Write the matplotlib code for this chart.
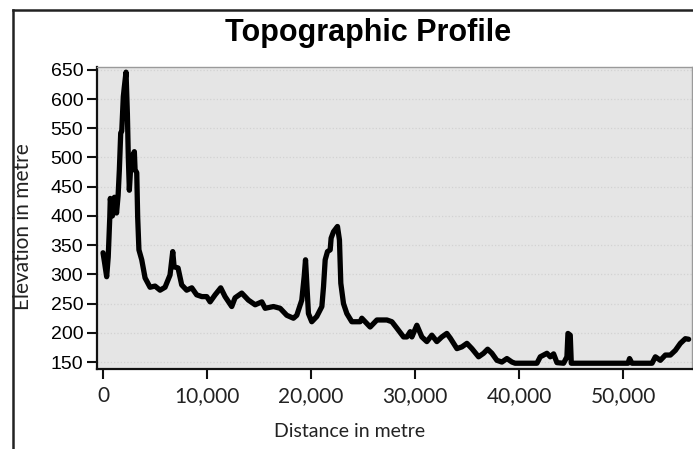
import matplotlib
matplotlib.use("Agg")
import matplotlib.pyplot as plt
from matplotlib.lines import Line2D
from matplotlib.ticker import StrMethodFormatter

# distance along profile (m) and elevation (m)
distance = [0, 150, 350, 500, 650, 700, 900, 1100, 1300, 1450, 1570, 1700, 1800,
            1950, 2050, 2210, 2340, 2430, 2530, 2660, 2820, 3010, 3080, 3240, 3330,
            3450, 3720, 4040, 4520, 5000, 5480, 5960, 6440, 6700, 6830, 7210, 7560,
            8040, 8530, 9000, 9500, 9970, 10290, 10770, 11310, 11730, 12370, 12690,
            13330, 13970, 14620, 15260, 15580, 16380, 17020, 17660, 18300, 18620,
            19100, 19330, 19460, 19580, 19740, 20060, 20540, 21030, 21190, 21350,
            21570, 21830, 21920, 22150, 22530, 22720, 22850, 23110, 23430, 23910,
            24710, 24870, 25190, 25670, 26320, 27280, 27760, 28240, 28880, 29200,
            29520, 29680, 30160, 30640, 31120, 31600, 32080, 32560, 33040, 33370,
            34010, 34490, 34970, 35450, 36090, 36570, 36960, 37370, 37850, 38330,
            38810, 39300, 39600, 41700, 42020, 42660, 42980, 43300, 43620, 44260,
            44580, 44680, 44900, 45000, 50450, 50600, 50830, 52760, 53080, 53560,
            54040, 54520, 55000, 55480, 55960, 56280]
elevation = [337, 320, 296, 330, 398, 430, 400, 432, 405, 435, 479, 542, 545,
             604, 621, 646, 575, 501, 444, 484, 501, 510, 479, 474, 398,
             342, 325, 294, 278, 280, 273, 278, 299, 339, 313, 311, 282,
             273, 277, 265, 262, 262, 253, 265, 277, 262, 245, 260,
             268, 256, 248, 253, 242, 245, 242, 230, 225, 230,
             256, 296, 325, 285, 233, 219, 228, 245, 279, 325,
             339, 342, 362, 373, 382, 359, 285, 250, 233, 219,
             219, 225, 219, 210, 222, 222, 219, 208, 193, 193,
             202, 193, 213, 193, 185, 196, 185, 193, 199, 191,
             173, 176, 182, 173, 159, 165, 172, 165, 153, 150,
             156, 150, 148, 148, 159, 165, 159, 164, 149, 148,
             159, 199, 196, 148, 148, 156, 148, 148, 159, 153,
             162, 162, 170, 182, 190, 189]

y_ticks = [150, 200, 250, 300, 350, 400, 450, 500, 550, 600, 650]
x_ticks = [0, 10000, 20000, 30000, 40000, 50000]

fig = plt.figure(figsize=(6.93, 4.49), dpi=100)
ax = fig.add_axes([0.140, 0.178, 0.859, 0.673])
ax.set_facecolor("#e5e5e5")

ax.plot(distance, elevation, color="black", lw=3.8,
        solid_joinstyle="round", solid_capstyle="round")

ax.set_xlim(-577, 56630)
ax.set_ylim(138, 655)
ax.set_yticks(y_ticks)
ax.set_xticks(x_ticks)
ax.xaxis.set_major_formatter(StrMethodFormatter("{x:,.0f}"))
ax.grid(axis="y", color="#d2d2d2", ls=":", lw=0.9)
ax.set_axisbelow(True)

for s in ["left", "bottom"]:
    ax.spines[s].set_color("#111111")
    ax.spines[s].set_linewidth(1.6)
for s in ["top", "right"]:
    ax.spines[s].set_color("#9a9a9a")
    ax.spines[s].set_linewidth(1.0)

ax.tick_params(axis="y", length=7, width=1.5, pad=3, labelsize=14, color="#111111")
ax.tick_params(axis="x", length=7.5, width=1.5, pad=5, labelsize=15, color="#111111")
for lab in ax.get_yticklabels():
    lab.set_fontfamily("Liberation Sans")
for lab in ax.get_xticklabels():
    lab.set_fontfamily("Lato")
    lab.set_color("#222222")

ax.set_xlabel("Distance in metre", fontsize=14, family="Lato", color="#222222")
ax.xaxis.set_label_coords(0.425, -0.18)
ax.set_ylabel("Elevation in metre", fontsize=15, family="Lato", color="#222222")
ax.yaxis.set_label_coords(-0.107, 0.47)

fig.text(368 / 693, 1 - 33 / 449, "Topographic Profile", ha="center", va="center",
         fontsize=22, fontweight="bold", family="Liberation Sans")

# outer frame (top and left edges only are visible in the crop)
fig.add_artist(Line2D([13 / 693, 1], [1 - 10 / 449, 1 - 10 / 449],
                      color="#222222", lw=1.8, transform=fig.transFigure))
fig.add_artist(Line2D([13 / 693, 13 / 693], [0, 1 - 10 / 449],
                      color="#222222", lw=1.8, transform=fig.transFigure))

fig.savefig("out.png", dpi=100)
